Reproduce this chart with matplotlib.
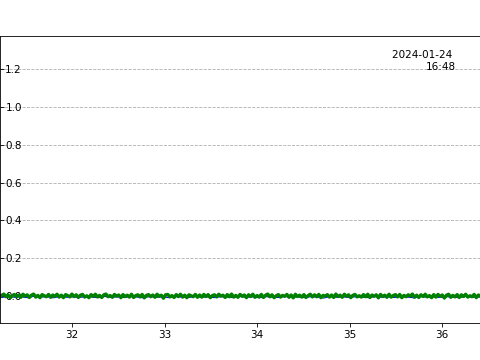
import numpy as np
import matplotlib
matplotlib.use("Agg")
import matplotlib.pyplot as plt

# --- data (time axis in hours, values near zero, in thousandths) ---
t_start, t_end = 31.1, 36.6
green_milli = [
    4, -6, 9, -2, 7, -8, 3, 10, -4, 6, -9, 2, 8, -5, 5, -7, 9, -1, 6, -8,
    4, 10, -6, 3, -9, 7, 1, -4, 8, -7, 5, -2, 9, -6, 4, -9, 7, 2, -5, 10,
    -3, 6, -8, 4, 8, -6, 1, -9, 7, -2, 9, -5, 3, -8, 6, 10, -4, 2, -7, 8,
    -1, 5, -9, 7, -3, 4, -6, 9, -8, 2, 6, -5, 8, -10, 3, 7, -4, 5, -7, 9,
    -2, 4, -12, 6, 8, -5, 2, -8, 7, -3, 9, -6, 4, -9, 6, 1, -4, 8, -7, 5,
    -6, 8, -3, 7, -9, 2, 6, -5, 9, -1, 4, -8, 7, -4, 10, -6, 3, -7, 8, -2,
    5, -9, 6, -3, 9, -7, 2, -5, 8, -8, 4, 10, -4, 6, -9, 1, 7, -6, 3, -2,
    8, -7, 5, -10, 9, -3, 4, -6, 7, -8, 2, 9, -5, 6, -4, 8, -9, 3, -1, 7,
    -6, 5, -8, 10, -3, 4, -7, 9, -2, 6, -9, 3, 8, -5, 1, -6, 7, -4, 9, -8,
    5, -2, 6, -10, 8, -3, 4, -7, 9, -6, 2, 7, -5, 8, -9, 3, -4, 6, -1, 10,
    -7, 4, -8, 6, -3, 9, -5, 2, -9, 7, -6, 8, -2, 5, -11, 4, 9, -7, 3, -5,
    7, -8, 6, -3, 9, -6, 1, -4, 8, -9, 5, -2, 7, -7, 10, -5, 3, -8, 6, -1,
]
blue_milli = [
    -6, -4, -8, -3, -7, -5, -9, -2, -6, -4, -10, -3, -7, -5, -8, -4, -6, -9, -3, -7,
    -5, -8, -4, -6, -10, -3, -7, -5, -9, -4, -6, -8, -3, -7, -5, -9, -4, -6, -8, -3,
    -7, -5, -10, -4, -6, -8, -3, -7, -5, -9, -4, -6, -11, -3, -7, -5, -8, -4, -6, -9,
    -3, -7, -5, -8, -4, -6, -10, -3, -7, -5, -8, -4, -6, -9, -3, -7, -5, -8, -4, -6,
]
stamp = "2024-01-24 \n16:48"

green_vals = np.array(green_milli) / 1000.0
blue_vals = np.array(blue_milli) / 1000.0

fig = plt.figure(figsize=(6.4, 4.8))
ax = fig.add_axes([0.0, 0.1028, 1.0, 0.7972])

ax.plot(np.linspace(t_start, t_end, len(blue_vals)), blue_vals, color="blue", lw=1)
ax.plot(np.linspace(t_start, t_end, len(green_vals)), green_vals, color="green", lw=3.2)

ax.set_xlim(31.22, 36.41)
ax.set_ylim(-0.143, 1.375)
ax.set_xticks([32, 33, 34, 35, 36])
ax.set_yticks([0.0, 0.2, 0.4, 0.6, 0.8, 1.0, 1.2])
ax.tick_params(axis="y", direction="in", pad=-21)
ax.spines["right"].set_visible(False)
ax.grid(True, axis="y", linestyle="--", color="#b0b0b0", lw=0.8)

ax.text(0.95, 0.951, stamp, transform=ax.transAxes, ha="right", va="top",
        multialignment="right", fontsize=10)

fig.savefig("out.png", dpi=75)
